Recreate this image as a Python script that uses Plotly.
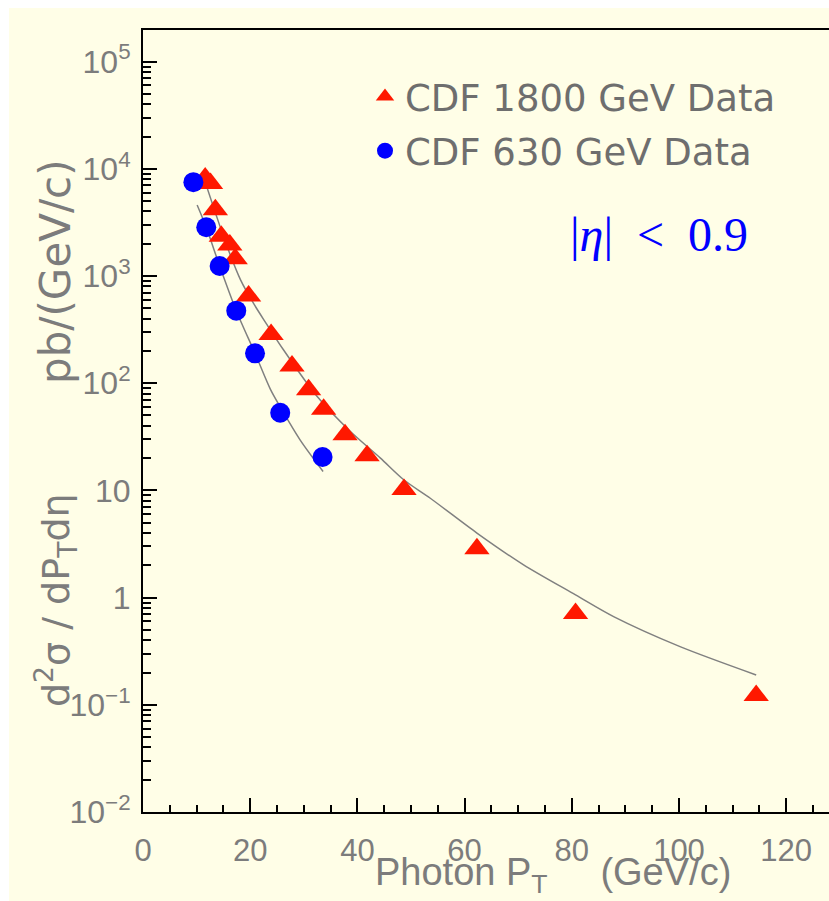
import plotly.graph_objects as go

# ---- data ----
pt_1800 = [11.6, 12.6, 13.5, 14.6, 16.2, 17.2, 19.7, 23.9, 27.8, 30.9, 33.7, 37.7, 41.8, 48.7, 62.3, 80.7, 114.4]
xs_1800 = [8200, 7300, 4150, 2350, 1950, 1450, 650, 285, 145, 87, 57, 33, 21, 10.2, 2.85, 0.71, 0.122]

pt_630 = [9.4, 11.8, 14.3, 17.4, 20.9, 25.6, 33.5]
xs_630 = [7500, 2850, 1240, 475, 190, 53, 20.5]

th_1800_x = [11.5, 13.5, 15.5, 18.2, 20.6, 23.0, 26.2, 32.5, 38.7, 44.3, 48.7, 53.6, 62.3, 71.0, 80.7, 87.8, 100.2, 114.4]
th_1800_y = [7800, 3900, 2000, 920, 557, 360, 205, 75, 35.4, 20, 12.5, 8.45, 4.0, 2.02, 1.06, 0.665, 0.349, 0.19]

th_630_x = [10.1, 11.8, 14.3, 17.4, 20.9, 23.8, 25.6, 29.3, 33.6]
th_630_y = [4600, 2850, 1240, 475, 190, 87, 60, 29.6, 15]

y_tickvals = [1e-2, 1e-1, 1, 10, 1e2, 1e3, 1e4, 1e5]
y_ticktext = ["10<sup>\u22122</sup>", "10<sup>\u22121</sup>", "1", "10",
              "10<sup>2</sup>", "10<sup>3</sup>", "10<sup>4</sup>", "10<sup>5</sup>"]
y_minor = [m * d for d in [1e-2, 1e-1, 1, 10, 1e2, 1e3, 1e4] for m in range(2, 10)]

labels = ["CDF 1800 GeV Data", "CDF 630 GeV Data"]

CREAM = "#FFFEE7"
GRAY = "#7c7c7c"

fig = go.Figure()
fig.add_trace(go.Scatter(x=th_1800_x, y=th_1800_y, mode="lines", line=dict(color="#808080", width=1.5, shape="spline", smoothing=0.8),
                         showlegend=False, hoverinfo="skip"))
fig.add_trace(go.Scatter(x=th_630_x, y=th_630_y, mode="lines", line=dict(color="#808080", width=1.5, shape="spline", smoothing=0.8),
                         showlegend=False, hoverinfo="skip"))
fig.add_trace(go.Scatter(x=pt_1800, y=xs_1800, mode="markers", name=labels[0], legendgroup="a",
                         marker=dict(symbol="triangle-up", size=22, color="#FF1800", line=dict(width=0))))
fig.add_trace(go.Scatter(x=pt_630, y=xs_630, mode="markers", name=labels[1], legendgroup="b",
                         marker=dict(symbol="circle", size=20, color="#0000FF", line=dict(width=0))))

L, R, T, B = 143, 0, 30, 89
W, H = 829, 901
pw, ph = W - L - R, H - T - B

def px(xp):
    return (xp - L) / pw

def py(yp):
    return 1 - (yp - T) / ph

fig.update_layout(
    width=W, height=H,
    margin=dict(l=L, r=R, t=T, b=B),
    paper_bgcolor=CREAM, plot_bgcolor=CREAM,
    font=dict(family="Liberation Sans, Arial, sans-serif", color=GRAY),
    legend=dict(x=px(365), y=py(66), xanchor="left", yanchor="top", bgcolor="rgba(0,0,0,0)",
                font=dict(family="DejaVu Sans", size=37, color="#6e6e6e"), tracegroupgap=3,
                traceorder="grouped"),
    xaxis=dict(range=[0, pw / 5.36], showgrid=False, zeroline=False, showline=True, linecolor="black",
               linewidth=2, mirror=True, ticks="inside", ticklen=14, tickwidth=2, tickcolor="black",
               tickmode="linear", tick0=0, dtick=20, ticklabelstandoff=10,
               tickfont=dict(size=31, color=GRAY, family="Liberation Sans"),
               minor=dict(ticks="inside", ticklen=7, tickwidth=2, tickcolor="black", dtick=5, showgrid=False)),
    yaxis=dict(type="log", range=[-2, -2 + ph / 107.2], showgrid=False, zeroline=False, showline=True,
               linecolor="black", linewidth=2, mirror=False, ticks="inside", ticklen=14, tickwidth=2,
               tickcolor="black", tickmode="array", tickvals=y_tickvals, ticktext=y_ticktext,
               ticklabelstandoff=4, tickfont=dict(size=32, color=GRAY, family="Liberation Sans"),
               minor=dict(ticks="inside", ticklen=8, tickwidth=2, tickcolor="black", tickmode="array",
                          tickvals=y_minor, showgrid=False)),
    shapes=[
        dict(type="rect", xref="paper", yref="paper", x0=px(-5), x1=px(9), y0=py(910), y1=py(-5),
             fillcolor="white", line=dict(width=0), layer="below"),
        dict(type="rect", xref="paper", yref="paper", x0=px(-5), x1=px(840), y0=py(8), y1=py(-5),
             fillcolor="white", line=dict(width=0), layer="below"),
    ],
    annotations=[
        dict(text="Photon P<sub>T</sub>\u00a0\u00a0\u00a0\u00a0\u00a0(GeV/c)", xref="paper", yref="paper",
             x=px(553), y=py(875), xanchor="center", yanchor="middle", showarrow=False,
             font=dict(family="Liberation Sans", size=38, color=GRAY)),
        dict(text="pb/(GeV/c)", xref="paper", yref="paper", x=px(55), y=py(272), xanchor="center",
             yanchor="middle", textangle=-90, showarrow=False,
             font=dict(family="DejaVu Sans", size=42, color=GRAY)),
        dict(text="d<sup>2</sup>\u03c3 / dP<sub>T</sub>d\u03b7", xref="paper", yref="paper", x=px(55), y=py(600),
             xanchor="center", yanchor="middle", textangle=-90, showarrow=False,
             font=dict(family="DejaVu Sans", size=38, color=GRAY)),
        dict(text="|<i>\u03b7</i>|\u00a0\u00a0&lt;\u00a0\u00a00.9", xref="paper", yref="paper", x=px(659), y=py(234),
             xanchor="center", yanchor="middle", showarrow=False,
             font=dict(family="Liberation Serif", size=48, color="#0000FF")),
    ],
)

fig.write_html("out.html")
